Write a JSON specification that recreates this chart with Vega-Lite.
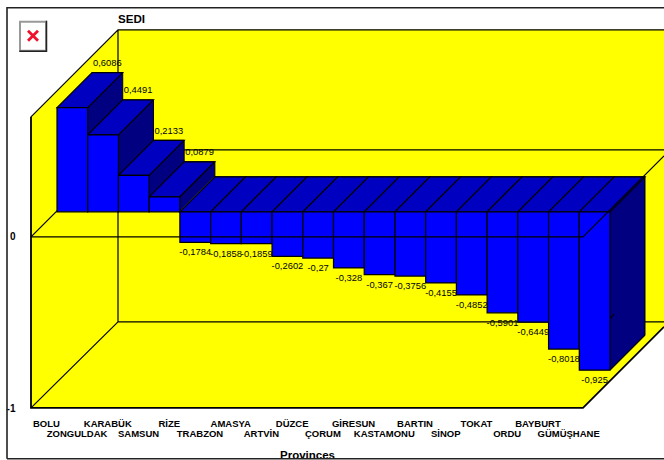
{"$schema":"https://vega.github.io/schema/vega-lite/v6.json","width":633,"height":378,"autosize":"none","padding":{"left":31,"top":30,"right":0,"bottom":52},"background":"white","config":{"view":{"stroke":null},"font":"Liberation Sans"},
"title":{"text":"SEDI","anchor":"start","frame":"group","dx":87,"dy":28,"offset":7.5,"fontSize":11.6,"fontWeight":"bold","font":"Liberation Sans","color":"#000"},
"data":{"values":[{"province":"BOLU","value":0.6086,"label":"0,6086"},{"province":"ZONGULDAK","value":0.4491,"label":"0,4491"},{"province":"KARABÜK","value":0.2133,"label":"0,2133"},{"province":"SAMSUN","value":0.0879,"label":"0,0879"},{"province":"RİZE","value":-0.1784,"label":"-0,1784"},{"province":"TRABZON","value":-0.1858,"label":"-0,1858"},{"province":"AMASYA","value":-0.1859,"label":"-0,1859"},{"province":"ARTVİN","value":-0.2602,"label":"-0,2602"},{"province":"DÜZCE","value":-0.27,"label":"-0,27"},{"province":"ÇORUM","value":-0.328,"label":"-0,328"},{"province":"GİRESUN","value":-0.367,"label":"-0,367"},{"province":"KASTAMONU","value":-0.3756,"label":"-0,3756"},{"province":"BARTIN","value":-0.4155,"label":"-0,4155"},{"province":"SİNOP","value":-0.4852,"label":"-0,4852"},{"province":"TOKAT","value":-0.5901,"label":"-0,5901"},{"province":"ORDU","value":-0.6449,"label":"-0,6449"},{"province":"BAYBURT","value":-0.8018,"label":"-0,8018"},{"province":"GÜMÜŞHANE","value":-0.925,"label":"-0,925"}]},
"encoding":{"x":{"field":"province","type":"nominal","sort":null,"scale":{"range":[26,579],"paddingInner":0,"paddingOuter":0},"axis":{"title":"Provinces","titleFont":"Liberation Sans","titleFontSize":11.5,"titleFontWeight":"bold","titleColor":"#000","titleX":276,"titleY":47,"titleBaseline":"middle","labelAngle":0,"labelOffset":-26,"labelPadding":10,"labelFontSize":9.5,"labelFontWeight":"bold","labelColor":"#000","labelFont":"Liberation Sans","labelOverlap":false,"labelLimit":0,"labelLineHeight":10,"labelExpr":"indexof(['ZONGULDAK','SAMSUN','TRABZON','ARTVİN','ÇORUM','KASTAMONU','SİNOP','ORDU','GÜMÜŞHANE'],datum.label)>=0?['',datum.label]:datum.label","ticks":false,"domain":false,"grid":false}},
"y":{"field":"value","type":"quantitative","stack":null,"scale":{"domain":[-1,0.7],"range":[378,87],"nice":false,"zero":false},"axis":{"title":null,"values":[0,-1],"labelExpr":"datum.value","labelPadding":16,"labelFontSize":10,"labelFontWeight":"bold","labelColor":"#000","labelFont":"Liberation Sans","ticks":false,"domain":false,"grid":false}}},
"layer":[
{"transform":[{"filter":"datum.province==='BOLU'"}],"encoding":{"y":{"datum":0}},"layer":[
{"mark":{"type":"point","size":4,"filled":true,"opacity":1,"fill":"#ffff00","stroke":null,"shape":"M-41.36,-120L45.64,-207L591.64,-207L591.64,90L510.64,171L-41.36,171Z"}},
{"mark":{"type":"point","size":4,"filled":false,"opacity":1,"fillOpacity":0,"stroke":"#000","strokeWidth":1.2,"shape":"M-41.36,-120L45.64,-207L591.64,-207M45.64,-207L45.64,85L591.64,85M-41.36,0L45.64,-87L591.64,-87M-41.36,171L45.64,85"}},
{"mark":{"type":"point","size":4,"filled":false,"opacity":1,"fillOpacity":0,"stroke":"#000","strokeWidth":1.8,"shape":"M-41.36,-120L-41.36,171L510.64,171L591.64,90"}},
{"mark":{"type":"point","size":4,"filled":false,"opacity":1,"fillOpacity":0,"stroke":"#222","strokeWidth":1.6,"shape":"M-65.36,222L-65.36,-229L591.64,-229M-65.36,222L591.64,222"}},
{"mark":{"type":"point","size":4,"filled":true,"opacity":1,"fill":"#fff","stroke":"#999","strokeWidth":2,"shape":"M-52.36,-215L-26.36,-215L-26.36,-186L-52.36,-186Z"}},
{"mark":{"type":"point","size":4,"filled":false,"opacity":1,"fillOpacity":0,"stroke":"#222","strokeWidth":1.5,"shape":"M-25.86,-216L-25.86,-185.5L-53,-185.5"}},
{"mark":{"type":"point","size":4,"filled":false,"opacity":1,"fillOpacity":0,"stroke":"#f0102a","strokeWidth":2.8,"shape":"M-44.36,-206L-34.36,-196M-34.36,-206L-44.36,-196"}}
]},
{"encoding":{"y2":{"datum":0}},"layer":[
{"mark":{"type":"bar","width":{"band":1},"color":"#000080","stroke":"#000","strokeWidth":1,"xOffset":35,"yOffset":-60,"y2Offset":-60}},
{"mark":{"type":"bar","width":{"band":1},"color":"#000080","xOffset":34,"yOffset":-59,"y2Offset":-59}},
{"mark":{"type":"bar","width":{"band":1},"color":"#000080","xOffset":33,"yOffset":-58,"y2Offset":-58}},
{"mark":{"type":"bar","width":{"band":1},"color":"#000080","xOffset":32,"yOffset":-57,"y2Offset":-57}},
{"mark":{"type":"bar","width":{"band":1},"color":"#000080","xOffset":31,"yOffset":-56,"y2Offset":-56}},
{"mark":{"type":"bar","width":{"band":1},"color":"#000080","xOffset":30,"yOffset":-55,"y2Offset":-55}},
{"mark":{"type":"bar","width":{"band":1},"color":"#000080","xOffset":29,"yOffset":-54,"y2Offset":-54}},
{"mark":{"type":"bar","width":{"band":1},"color":"#000080","xOffset":28,"yOffset":-53,"y2Offset":-53}},
{"mark":{"type":"bar","width":{"band":1},"color":"#000080","xOffset":27,"yOffset":-52,"y2Offset":-52}},
{"mark":{"type":"bar","width":{"band":1},"color":"#000080","xOffset":26,"yOffset":-51,"y2Offset":-51}},
{"mark":{"type":"bar","width":{"band":1},"color":"#000080","xOffset":25,"yOffset":-50,"y2Offset":-50}},
{"mark":{"type":"bar","width":{"band":1},"color":"#000080","xOffset":24,"yOffset":-49,"y2Offset":-49}},
{"mark":{"type":"bar","width":{"band":1},"color":"#000080","xOffset":23,"yOffset":-48,"y2Offset":-48}},
{"mark":{"type":"bar","width":{"band":1},"color":"#000080","xOffset":22,"yOffset":-47,"y2Offset":-47}},
{"mark":{"type":"bar","width":{"band":1},"color":"#000080","xOffset":21,"yOffset":-46,"y2Offset":-46}},
{"mark":{"type":"bar","width":{"band":1},"color":"#000080","xOffset":20,"yOffset":-45,"y2Offset":-45}},
{"mark":{"type":"bar","width":{"band":1},"color":"#000080","xOffset":19,"yOffset":-44,"y2Offset":-44}},
{"mark":{"type":"bar","width":{"band":1},"color":"#000080","xOffset":18,"yOffset":-43,"y2Offset":-43}},
{"mark":{"type":"bar","width":{"band":1},"color":"#000080","xOffset":17,"yOffset":-42,"y2Offset":-42}},
{"mark":{"type":"bar","width":{"band":1},"color":"#000080","xOffset":16,"yOffset":-41,"y2Offset":-41}},
{"mark":{"type":"bar","width":{"band":1},"color":"#000080","xOffset":15,"yOffset":-40,"y2Offset":-40}},
{"mark":{"type":"bar","width":{"band":1},"color":"#000080","xOffset":14,"yOffset":-39,"y2Offset":-39}},
{"mark":{"type":"bar","width":{"band":1},"color":"#000080","xOffset":13,"yOffset":-38,"y2Offset":-38}},
{"mark":{"type":"bar","width":{"band":1},"color":"#000080","xOffset":12,"yOffset":-37,"y2Offset":-37}},
{"mark":{"type":"bar","width":{"band":1},"color":"#000080","xOffset":11,"yOffset":-36,"y2Offset":-36}},
{"mark":{"type":"bar","width":{"band":1},"color":"#000080","xOffset":10,"yOffset":-35,"y2Offset":-35}},
{"mark":{"type":"bar","width":{"band":1},"color":"#000080","xOffset":9,"yOffset":-34,"y2Offset":-34}},
{"mark":{"type":"bar","width":{"band":1},"color":"#000080","xOffset":8,"yOffset":-33,"y2Offset":-33}},
{"mark":{"type":"bar","width":{"band":1},"color":"#000080","xOffset":7,"yOffset":-32,"y2Offset":-32}},
{"mark":{"type":"bar","width":{"band":1},"color":"#000080","xOffset":6,"yOffset":-31,"y2Offset":-31}},
{"mark":{"type":"bar","width":{"band":1},"color":"#000080","xOffset":5,"yOffset":-30,"y2Offset":-30}},
{"mark":{"type":"bar","width":{"band":1},"color":"#000080","xOffset":4,"yOffset":-29,"y2Offset":-29}},
{"mark":{"type":"bar","width":{"band":1},"color":"#000080","xOffset":3,"yOffset":-28,"y2Offset":-28}},
{"mark":{"type":"bar","width":{"band":1},"color":"#000080","xOffset":2,"yOffset":-27,"y2Offset":-27}},
{"mark":{"type":"bar","width":{"band":1},"color":"#000080","xOffset":1,"yOffset":-26,"y2Offset":-26}}
]},
{"transform":[{"filter":"datum.value<0"}],"mark":{"type":"point","size":4,"filled":false,"opacity":1,"fillOpacity":0,"stroke":"#000","strokeWidth":1.2,"yOffset":-25,"shape":"M15.36,0L50.36,-35"}},
{"transform":[{"filter":"datum.value>0"}],"mark":{"type":"point","size":4,"filled":true,"opacity":1,"fill":"#0000c0","stroke":"#000","strokeWidth":1.2,"yOffset":-25,"shape":"M-15.36,0L15.36,0L50.36,-35L19.64,-35Z"}},
{"transform":[{"filter":"datum.value<0"}],"encoding":{"y":{"datum":0}},"mark":{"type":"point","size":4,"filled":true,"opacity":1,"fill":"#0000c0","stroke":"#000","strokeWidth":1.2,"yOffset":-25,"shape":"M-15.36,0L15.36,0L50.36,-35L19.64,-35Z"}},
{"encoding":{"y2":{"datum":0}},"mark":{"type":"bar","width":{"band":1},"color":"#0000ff","stroke":"#000","strokeWidth":1.2,"yOffset":-25,"y2Offset":-25}},
{"transform":[{"filter":"datum.province==='BOLU'"}],"encoding":{"y":{"datum":0}},"mark":{"type":"point","size":4,"filled":false,"opacity":1,"fillOpacity":0,"stroke":"#000","strokeWidth":1.2,"shape":"M-41.36,0L510.64,0L591.64,-81"}},
{"transform":[{"filter":"datum.value>0"}],"mark":{"type":"text","font":"Liberation Sans","fontSize":9.4,"color":"#000","baseline":"middle","dx":35,"dy":-69.5},"encoding":{"text":{"field":"label"}}},
{"transform":[{"filter":"datum.value<0"}],"mark":{"type":"text","font":"Liberation Sans","fontSize":9.4,"color":"#000","baseline":"middle","dy":-15},"encoding":{"text":{"field":"label"}}}
]}
